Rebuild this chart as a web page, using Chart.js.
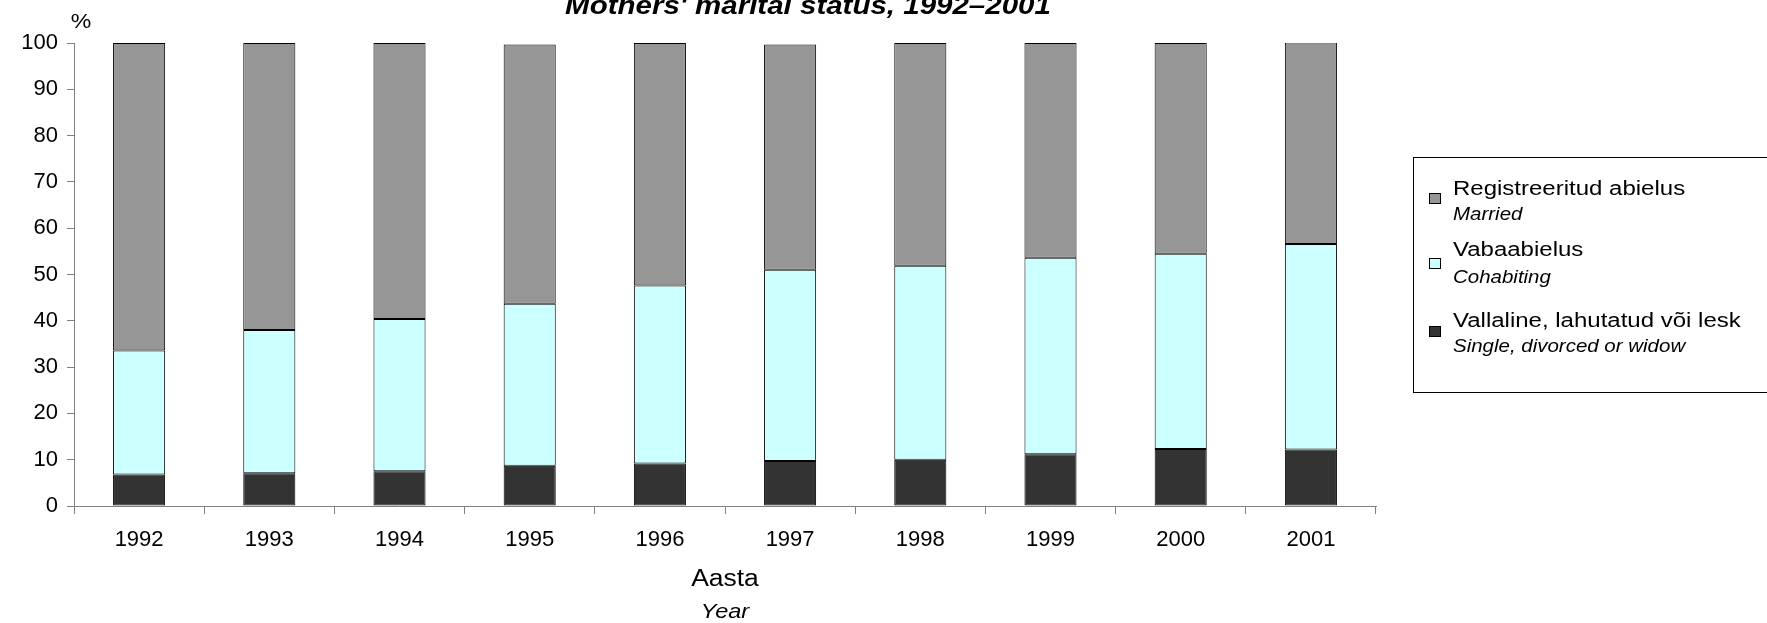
<!DOCTYPE html>
<html>
<head>
<meta charset="utf-8">
<title>Mothers' marital status, 1992–2001</title>
<script src="https://cdn.jsdelivr.net/npm/chart.js@4/dist/chart.umd.min.js"></script>
<style>
  html, body { margin: 0; padding: 0; background: #fff; }
  #wrap { width: 1767px; height: 623px; position: relative; }
</style>
</head>
<body>
<div id="wrap"><canvas id="chart" width="1767" height="623"></canvas></div>
<script>
// Data (percent of births by mother's marital status)
const years = ['1992', '1993', '1994', '1995', '1996', '1997', '1998', '1999', '2000', '2001'];
const single     = [6.8, 7.1, 7.5, 8.7, 9.2, 9.7, 10.0, 11.2, 12.3, 12.2];
const cohabiting = [26.8, 30.9, 32.9, 35.0, 38.4, 41.3, 41.9, 42.4, 42.2, 44.4];
const married    = [66.4, 62.0, 59.6, 56.0, 52.4, 48.7, 48.1, 46.4, 45.5, 43.5];
const yTicks = [0, 10, 20, 30, 40, 50, 60, 70, 80, 90, 100];

const FONT = 'Arial, "Liberation Sans", sans-serif';
const AXIS_GREY = '#808080';

const legendItems = [
  { main: 'Registreeritud abielus', sub: 'Married', color: '#969696' },
  { main: 'Vabaabielus', sub: 'Cohabiting', color: '#CCFFFF' },
  { main: 'Vallaline, lahutatud või lesk', sub: 'Single, divorced or widow', color: '#333333' },
];

// the original export is a bit wider than tall, so free text gets a small x-stretch
function wideText(ctx, text, x, y, align, sx) {
  ctx.save();
  ctx.translate(x, y);
  ctx.scale(sx, 1);
  ctx.textAlign = align;
  ctx.fillText(text, 0, 0);
  ctx.restore();
}

// titles, "%" label, axis title and the boxed legend
const decorations = {
  id: 'decorations',
  afterDraw(chart) {
    const ctx = chart.ctx;
    const area = chart.chartArea;
    ctx.save();
    ctx.fillStyle = '#000';

    ctx.textBaseline = 'alphabetic';
    ctx.font = 'bold italic 25px ' + FONT;
    wideText(ctx, "Mothers' marital status, 1992–2001", 808, 14, 'center', 1.18);

    ctx.textBaseline = 'middle';
    ctx.font = '21px ' + FONT;
    wideText(ctx, '%', 81, 22, 'center', 1.1);

    const midX = (area.left + area.right) / 2;
    ctx.font = '23px ' + FONT;
    wideText(ctx, 'Aasta', midX, 580, 'center', 1.15);
    ctx.font = 'italic 21px ' + FONT;
    wideText(ctx, 'Year', midX, 612, 'center', 1.12);

    // legend box (runs off the right edge)
    ctx.strokeStyle = '#000';
    ctx.lineWidth = 1;
    ctx.strokeRect(1413.5, 157.5, 400, 235);

    const rows = [{ main: 189, sub: 215, mark: 198 }, { main: 250, sub: 278, mark: 263 }, { main: 321, sub: 347, mark: 331 }];
    legendItems.forEach((item, i) => {
      const r = rows[i];
      ctx.fillStyle = item.color;
      ctx.fillRect(1429, r.mark - 5, 12, 11);
      ctx.strokeStyle = '#000';
      ctx.strokeRect(1429.5, r.mark - 4.5, 11, 10);
      ctx.fillStyle = '#000';
      ctx.font = '20px ' + FONT;
      wideText(ctx, item.main, 1453, r.main, 'left', 1.2);
      ctx.font = 'italic 17.5px ' + FONT;
      wideText(ctx, item.sub, 1453, r.sub, 'left', 1.17);
    });
    ctx.restore();
  }
};

function barSet(label, data, color) {
  return {
    label: label,
    data: data,
    backgroundColor: color,
    borderColor: '#000',
    borderWidth: 1,
    borderSkipped: false,
    categoryPercentage: 1.0,
    barPercentage: 0.4,
  };
}

new Chart(document.getElementById('chart'), {
  type: 'bar',
  data: {
    labels: years,
    datasets: [
      barSet('Vallaline, lahutatud või lesk', single, legendItems[2].color),
      barSet('Vabaabielus', cohabiting, legendItems[1].color),
      barSet('Registreeritud abielus', married, legendItems[0].color),
    ]
  },
  options: {
    responsive: false,
    animation: false,
    layout: { padding: { left: 0, top: 43, right: 391, bottom: 0 } },
    plugins: {
      legend: { display: false },
      tooltip: { enabled: false },
    },
    scales: {
      x: {
        stacked: true,
        grid: { offset: true, drawOnChartArea: false, drawTicks: true, tickLength: 8, color: AXIS_GREY },
        border: { display: true, color: AXIS_GREY, width: 1 },
        ticks: { color: '#000', font: { family: FONT, size: 22 }, padding: 13, maxRotation: 0 },
        afterFit: scale => { scale.height = 117; },
      },
      y: {
        stacked: true,
        min: 0,
        max: 100,
        afterBuildTicks: scale => { scale.ticks = yTicks.map(v => ({ value: v })); },
        grid: { drawOnChartArea: false, drawTicks: true, tickLength: 7, color: AXIS_GREY },
        border: { display: true, color: AXIS_GREY, width: 1 },
        ticks: { color: '#000', font: { family: FONT, size: 22 }, padding: 9 },
        afterFit: scale => { scale.width = 74; },
      },
    },
  },
  plugins: [decorations],
});
</script>
</body>
</html>
